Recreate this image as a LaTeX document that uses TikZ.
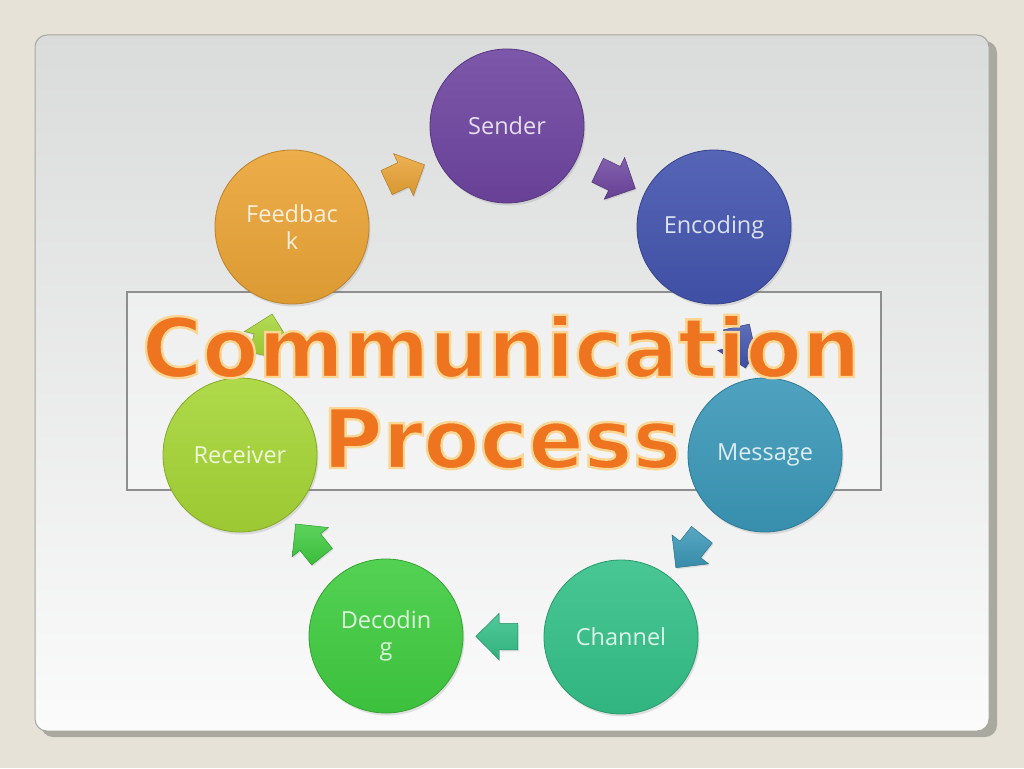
\documentclass[tikz,border=0pt]{standalone}
\usepackage{fontspec}
\setmainfont{Open Sans}
\newfontfamily\titlefont{DejaVu Sans}
\usetikzlibrary{shapes.arrows,shadows,calc}
\definecolor{bgcol}{HTML}{E6E2D8}
\definecolor{panshadow}{HTML}{A9A99F}
\definecolor{panborder}{HTML}{A8A8A0}
\definecolor{pantop}{HTML}{DADBDB}
\definecolor{panbot}{HTML}{FBFBFB}
\definecolor{cSender}{HTML}{6E45A0}
\definecolor{cEncoding}{HTML}{4354AE}
\definecolor{cMessage}{HTML}{3B98B8}
\definecolor{cChannel}{HTML}{34C088}
\definecolor{cDecoding}{HTML}{40CC40}
\definecolor{cReceiver}{HTML}{A6D536}
\definecolor{cFeedback}{HTML}{EAA436}
\definecolor{titleorange}{HTML}{EE7420}
\definecolor{framecol}{HTML}{8E8E8E}
\tikzset{
  stage/.style={circle, minimum size=154pt, inner sep=0pt, align=center,
    top color=#1!90!white, bottom color=#1!94!black, draw=#1!80!black, line width=0.8pt,
    text=white!82!#1, font=\fontsize{23.5}{27}\selectfont,
    drop shadow={shadow xshift=1.5pt, shadow yshift=-2.5pt, opacity=0.22}},
  flowarrow/.style={single arrow, single arrow tip angle=90, single arrow head extend=10pt,
    minimum height=42pt, inner sep=0pt, outer sep=0pt,
    top color=#1!85!white, bottom color=#1!92!black, draw=#1!75!black, line width=0.5pt,
    drop shadow={shadow xshift=1pt, shadow yshift=-1.5pt, opacity=0.2}},
  titletext/.style={font=\titlefont\bfseries\fontsize{82}{91}\selectfont,
    text=titleorange, anchor=base, inner sep=0pt}
}
\newcommand\cyclearrow[4]{%
  \path let \p1=($(#3)-(#2)$), \n1={atan2(\y1,\x1)} in
    node[flowarrow=#4, rotate=\n1] (#1) at ($(#2)!0.5!(#3)$) {\rule{0pt}{26pt}};}
\newcommand\outlinedtext[1]{\special{pdf:literal direct 2 Tr 2.4 w 0.99 0.84 0.58 RG}#1\special{pdf:literal direct 0 Tr}}
\begin{document}
\begin{tikzpicture}[x=1pt,y=-1pt]
\useasboundingbox (0,0) rectangle (1024,768);
\fill[bgcol] (0,0) rectangle (1024,768);
\fill[panshadow, rounded corners=12pt] (41,41) rectangle (997,737);
\shade[top color=pantop, bottom color=panbot, draw=panborder, line width=1pt, rounded corners=12pt]
  (35,35) rectangle (989,731);

\node[draw=framecol, line width=1.5pt, fill=white, fill opacity=0.35,
  minimum width=754pt, minimum height=198pt, inner sep=0pt] (frame) at (504,391) {};

\node[stage=cSender]   (sender)   at (507,126) {Sender};
\node[stage=cEncoding] (encoding) at (714,227) {Encoding};
\node[stage=cMessage]  (message)  at (765,455) {Message};
\node[stage=cChannel]  (channel)  at (621,637) {Channel};
\node[stage=cDecoding] (decoding) at (386,636) {Decodin\\g};
\node[stage=cReceiver] (receiver) at (240,455) {Receiver};
\node[stage=cFeedback] (feedback) at (292,227) {Feedbac\\k};

\cyclearrow{a1}{sender}{encoding}{cSender}
\cyclearrow{a2}{encoding}{message}{cEncoding}
\cyclearrow{a3}{message}{channel}{cMessage}
\cyclearrow{a4}{channel}{decoding}{cChannel}
\cyclearrow{a5}{decoding}{receiver}{cDecoding}
\cyclearrow{a6}{receiver}{feedback}{cReceiver}
\cyclearrow{a7}{feedback}{sender}{cFeedback}

\node[titletext] (title1) at (501,377) {\outlinedtext{Communication}};
\node[titletext] (title2) at (502,468) {\outlinedtext{Process}};
\end{tikzpicture}
\end{document}
